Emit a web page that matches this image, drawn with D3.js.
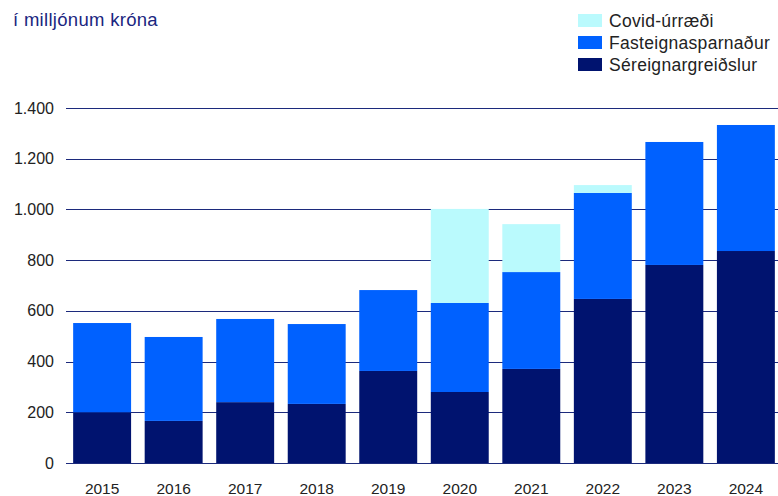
<!DOCTYPE html>
<html><head><meta charset="utf-8">
<script src="https://cdn.jsdelivr.net/npm/d3@7"></script>
<style>body{margin:0;background:#fff}svg{display:block}</style>
</head><body>
<svg id="c" width="778" height="496"></svg>
<script>
const years = ["2015","2016","2017","2018","2019","2020","2021","2022","2023","2024"];
const sereign = [200,166,240,233,363,280,371,647,781,836];
const fasteign = [352,331,328,315,319,351,382,418,485,497];
const covid = [0,0,0,0,0,371,189,31,0,0];
const yTicks = [0,200,400,600,800,1000,1200,1400];
const seriesNames = ["Séreignargreiðslur","Fasteignasparnaður","Covid-úrræði"];
const colors = ["#00136f","#0061ff","#bafafd"];

const svg = d3.select("#c");
const font = "'Liberation Sans', Arial, sans-serif";
const x = d3.scaleBand().domain(years).range([66,782]).paddingInner(0.19).paddingOuter(0.1);
const y = d3.scaleLinear().domain([0,1400]).range([463,108]);

// grid
const g = svg.append("g");
g.selectAll("line").data(yTicks).join("line")
  .attr("x1",66).attr("x2",778)
  .attr("y1",d=>Math.round(y(d))+0.5).attr("y2",d=>Math.round(y(d))+0.5)
  .attr("stroke","#1c2a7c").attr("stroke-width",1.2);

// y labels
svg.append("g").selectAll("text").data(yTicks).join("text")
  .attr("x",54).attr("y",d=>y(d)).attr("dy","0.35em")
  .attr("text-anchor","end").attr("font-family",font).attr("font-size",16)
  .attr("fill","#222").text(d=>d3.format(",")(d).replace(/,/g,"."));

// stacked bars
const rows = years.map((yr,i)=>({year:yr, s:sereign[i], f:fasteign[i], c:covid[i]}));
const stack = d3.stack().keys(["s","f","c"])(rows);
svg.append("g").selectAll("g").data(stack).join("g")
  .attr("fill",(d,i)=>colors[i])
  .selectAll("rect").data(d=>d).join("rect")
  .attr("x",d=>x(d.data.year)).attr("width",x.bandwidth())
  .attr("y",d=>y(d[1])).attr("height",d=>Math.max(0,y(d[0])-y(d[1])));

// x labels
svg.append("g").selectAll("text").data(years).join("text")
  .attr("x",d=>x(d)+x.bandwidth()/2).attr("y",494)
  .attr("text-anchor","middle").attr("font-family",font).attr("font-size",15.5)
  .attr("fill","#222").text(d=>d);

// subtitle
svg.append("text").attr("x",13).attr("y",26).attr("font-family",font)
  .attr("font-size",18.5).attr("fill","#1a2680").attr("letter-spacing",0.3).text("í milljónum króna");

// legend (top to bottom: Covid, Fasteign, Séreign)
const leg = [2,1,0];
const lg = svg.append("g").selectAll("g").data(leg).join("g")
  .attr("transform",(d,i)=>`translate(578,${14+i*22})`);
lg.append("rect").attr("width",24).attr("height",13).attr("fill",d=>colors[d]);
lg.append("text").attr("x",31).attr("y",6.5).attr("dy","0.35em")
  .attr("font-family",font).attr("font-size",17.5).attr("letter-spacing",0.3).attr("fill","#222")
  .text(d=>seriesNames[d]);
</script>
</body></html>
